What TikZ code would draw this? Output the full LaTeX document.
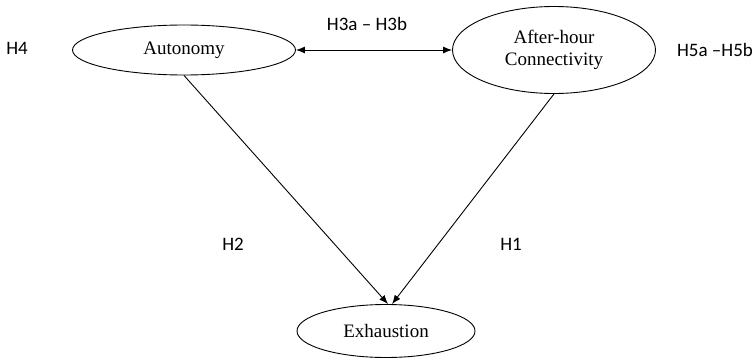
\documentclass[tikz,border=0pt]{standalone}
\usepackage{fontspec}
\setmainfont{Liberation Serif}
\newfontfamily\labfont{Carlito}
\usetikzlibrary{shapes.geometric,arrows.meta}
\begin{document}
\begin{tikzpicture}[x=1pt,y=-1pt,
  var/.style={draw,ellipse,inner sep=0pt,line width=0.9pt,font=\fontsize{19}{22}\selectfont,align=center},
  hyp/.style={font=\labfont\fontsize{19}{22}\selectfont,inner sep=0pt},
  conn/.style={line width=0.9pt,-{Latex[length=9pt,width=7pt]}}]
\useasboundingbox (0,0) rectangle (755,361);
\node[var,minimum width=223pt,minimum height=50pt] (auto) at (184,50) {Autonomy};
\node[var,minimum width=203pt,minimum height=87pt] (aft) at (554,50) {After-hour\\Connectivity};
\node[var,minimum width=178pt,minimum height=53pt] (exh) at (386,331) {Exhaustion};
\draw[line width=0.9pt,{Latex[length=9pt,width=7pt]}-{Latex[length=9pt,width=7pt]}] (auto.east) -- (aft.west);
\draw[conn] (auto.south) -- ([xshift=2pt]exh.north);
\draw[conn] (aft.south) -- ([xshift=6pt]exh.north);
\node[hyp] (h4) at (17,48) {H4};
\node[hyp] (h3) at (367,24) {H3a – H3b};
\node[hyp] (h5) at (715,50) {H5a –H5b};
\node[hyp] (h2) at (233,244) {H2};
\node[hyp] (h1) at (511,244) {H1};
\end{tikzpicture}
\end{document}
